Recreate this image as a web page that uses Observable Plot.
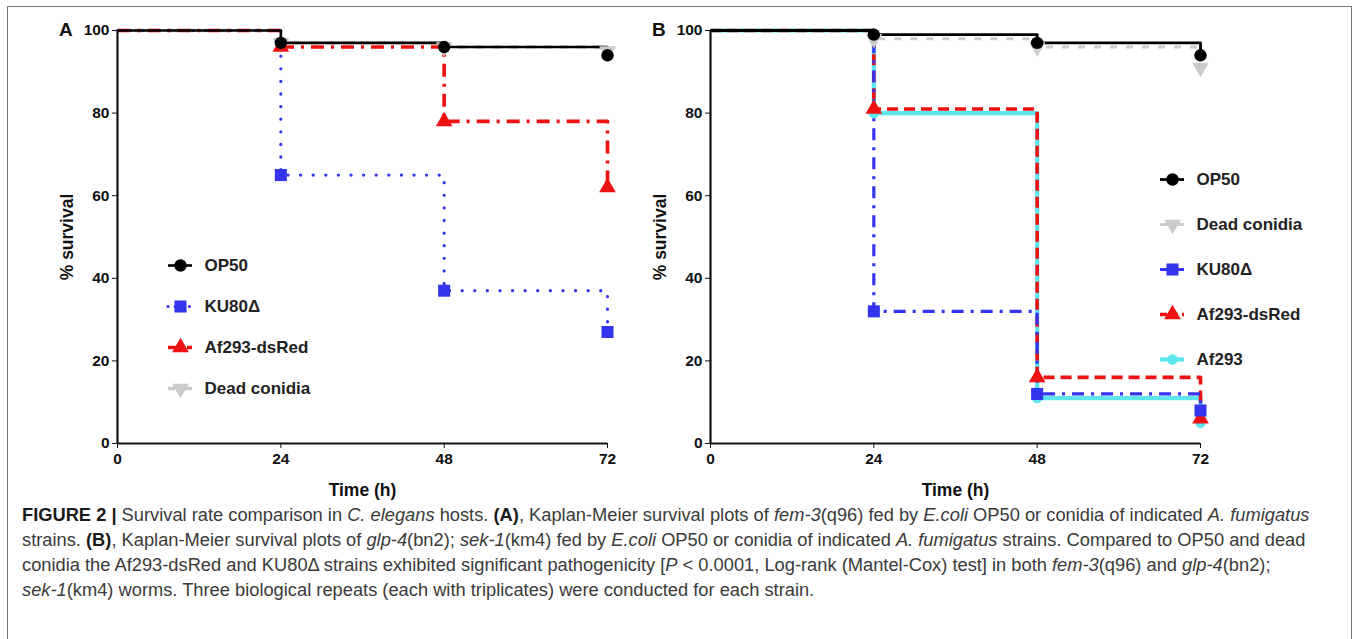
<!DOCTYPE html>
<html>
<head>
<meta charset="utf-8">
<script src="https://cdn.jsdelivr.net/npm/d3@7"></script>
<script src="https://cdn.jsdelivr.net/npm/@observablehq/plot@0.6"></script>
<style>
  html, body { margin: 0; padding: 0; background: #fff; }
  #root { position: relative; width: 1360px; height: 639px; overflow: hidden; background: #fff; }
  #frame { position: absolute; left: 7px; top: 6px; width: 1345px; height: 700px; border: 1.5px solid #777; box-sizing: border-box; }
  .abs { position: absolute; }
  .plabel { font-family: "Liberation Sans", Arial, sans-serif; font-weight: bold; font-size: 19px; color: #111; }
  #caption { position: absolute; left: 22px; top: 502px; font-family: "Liberation Sans", Arial, sans-serif; font-size: 18.3px; line-height: 25px; color: #3a3a3a; white-space: nowrap; }
  #caption b { color: #1a1a1a; }
</style>
</head>
<body>
<div id="root">
  <div id="frame"></div>
  <div class="abs plabel" style="left:59px; top:19px;">A</div>
  <div class="abs plabel" style="left:652px; top:19px;">B</div>
  <div id="caption">
    <b>FIGURE 2 |</b> Survival rate comparison in <i>C. elegans</i> hosts. <b>(A)</b>, Kaplan-Meier survival plots of <i>fem-3</i>(q96) fed by <i>E.coli</i> OP50 or conidia of indicated <i>A. fumigatus</i><br>
    strains. <b>(B)</b>, Kaplan-Meier survival plots of <i>glp-4</i>(bn2); <i>sek-1</i>(km4) fed by <i>E.coli</i> OP50 or conidia of indicated <i>A. fumigatus</i> strains. Compared to OP50 and dead<br>
    conidia the Af293-dsRed and KU80Δ strains exhibited significant pathogenicity [<i>P</i> &lt; 0.0001, Log-rank (Mantel-Cox) test] in both <i>fem-3</i>(q96) and <i>glp-4</i>(bn2);<br>
    <i>sek-1</i>(km4) worms. Three biological repeats (each with triplicates) were conducted for each strain.
  </div>
</div>
<script>
// ---------------- data ----------------
const times = [0, 24, 48, 72];
const yTicks = [0, 20, 40, 60, 80, 100];
const xLabel = "Time (h)";
const yLabel = "% survival";

// Panel A: fem-3(q96)
const strainsA = ["OP50", "KU80Δ", "Af293-dsRed", "Dead conidia"];
const survA_OP50 = [100, 97, 96, 94];
const survA_KU80 = [100, 65, 37, 27];
const survA_dsRed = [100, 96, 78, 62];
const survA_Dead = [100, 97, 96, 95];

// Panel B: glp-4(bn2); sek-1(km4)
const strainsB = ["OP50", "Dead conidia", "KU80Δ", "Af293-dsRed", "Af293"];
const survB_OP50 = [100, 99, 97, 94];
const survB_Dead = [100, 98, 96, 91];
const survB_KU80 = [100, 32, 12, 8];
const survB_dsRed = [100, 81, 16, 6];
const survB_Af293 = [100, 80, 11, 5];

// ---------------- styles ----------------
const triangleDown = {
  draw(ctx, size) {
    const s3 = Math.sqrt(3);
    const y = -Math.sqrt(size / (s3 * 3));
    ctx.moveTo(0, -y * 2);
    ctx.lineTo(-s3 * y, y);
    ctx.lineTo(s3 * y, y);
    ctx.closePath();
  }
};
const stylesA = {
  "OP50":         {stroke: "#000000", width: 2.6, dash: null,       cap: "butt",  symbol: "circle",   r: 6.2, ldash: null},
  "KU80Δ":        {stroke: "#3434ee", width: 3.2, dash: "0.1,12.5", cap: "round", symbol: "square",   r: 6.8, ldash: "0.1,7"},
  "Af293-dsRed":  {stroke: "#ee1111", width: 3.6, dash: "13,7,3,7", cap: "butt",  symbol: "triangle", r: 6.2, ldash: "9,4,2,4"},
  "Dead conidia": {stroke: "#cbcbcb", width: 3.4, dash: "9,8",      cap: "butt",  symbol: triangleDown, r: 6.2, ldash: "7,4,2,4"}
};
const stylesB = {
  "OP50":         {stroke: "#000000", width: 2.8, dash: null,       cap: "butt",  symbol: "circle",   r: 6.2, ldash: null},
  "Dead conidia": {stroke: "#cbcbcb", width: 3.2, dash: "7,9",      cap: "butt",  symbol: triangleDown, r: 6.2, ldash: "7,4,2,4"},
  "KU80Δ":        {stroke: "#3434ee", width: 3.2, dash: "12,7,3,7", cap: "butt",  symbol: "square",   r: 6.8, ldash: "7,4,2,4"},
  "Af293-dsRed":  {stroke: "#ee1111", width: 3.6, dash: "11,6",     cap: "butt",  symbol: "triangle", r: 6.2, ldash: "7,4"},
  "Af293":        {stroke: "#5ee6ee", width: 4.2, dash: null,       cap: "butt",  symbol: "circle",   r: 5.2, ldash: null}
};

function rows(strain, surv) { return times.map((t, i) => ({t, s: surv[i], strain})); }

function lineMark(data, st) {
  return Plot.line(data, {x: "t", y: "s", curve: "step-after", stroke: st.stroke, strokeWidth: st.width,
    strokeDasharray: st.dash, strokeLinecap: st.cap});
}
function dotMark(data, st) {
  return Plot.dot(data.filter(d => d.t > 0), {x: "t", y: "s", symbol: () => st.symbol, r: st.r, fill: st.stroke, stroke: "none"});
}

function panel(order, styles) {
  return Plot.plot({
    width: 577, height: 500,
    marginLeft: 67, marginRight: 20, marginTop: 30, marginBottom: 57,
    style: {fontFamily: "'Liberation Sans', Arial, sans-serif", fontWeight: "bold", color: "#111", background: "transparent", overflow: "visible"},
    x: {domain: [0, 72]},
    y: {domain: [0, 100]},
    symbol: {type: "identity"},
    marks: [
      Plot.axisX({ticks: times, tickSize: 5, tickPadding: 4, label: null, fontSize: 15.5}),
      Plot.axisY({ticks: yTicks, tickSize: 5, tickPadding: 3, label: null, fontSize: 15.5}),
      Plot.text([xLabel], {text: d => d, frameAnchor: "bottom", textAnchor: "middle", dy: 52, fontSize: 17.5, fontWeight: "bold", fill: "#111"}),
      Plot.text([yLabel], {text: d => d, frameAnchor: "left", textAnchor: "middle", dx: -50, rotate: -90, fontSize: 17.5, fontWeight: "bold", fill: "#111"}),
      ...order.map(([name, surv]) => lineMark(rows(name, surv), styles[name])),
      Plot.ruleX([0], {stroke: "#111", strokeWidth: 2.2}),
      Plot.ruleY([0], {stroke: "#111", strokeWidth: 2.2}),
      ...order.map(([name, surv]) => dotMark(rows(name, surv), styles[name]))
    ]
  });
}

function legend(names, styles, spacing) {
  const n = names.length;
  return Plot.plot({
    width: 180, height: 20 * 2 + spacing * (n - 1),
    marginLeft: 0, marginRight: 0, marginTop: 20, marginBottom: 20,
    style: {fontFamily: "'Liberation Sans', Arial, sans-serif", fontWeight: "bold", color: "#222", background: "transparent", overflow: "visible"},
    x: {domain: [0, 180], range: [0, 180], axis: null},
    y: {type: "point", domain: names, padding: 0, axis: null},
    symbol: {type: "identity"},
    marks: [
      ...names.map(name => Plot.ruleY([name], {y: d => d, x1: 0, x2: 24, stroke: styles[name].stroke,
        strokeWidth: styles[name].width, strokeDasharray: styles[name].ldash, strokeLinecap: styles[name].cap})),
      ...names.map(name => Plot.dot([name], {y: d => d, x: 12, symbol: () => styles[name].symbol, r: styles[name].r, fill: styles[name].stroke})),
      Plot.text(names, {y: d => d, x: 36, text: d => d, textAnchor: "start", fill: "#222", fontSize: 17})
    ]
  });
}

const root = document.getElementById("root");

const pA = panel([["Dead conidia", survA_Dead], ["KU80Δ", survA_KU80], ["Af293-dsRed", survA_dsRed], ["OP50", survA_OP50]], stylesA);
pA.style.position = "absolute"; pA.style.left = "50px"; pA.style.top = "0px";
root.appendChild(pA);

const pB = panel([["Dead conidia", survB_Dead], ["Af293", survB_Af293], ["Af293-dsRed", survB_dsRed], ["KU80Δ", survB_KU80], ["OP50", survB_OP50]], stylesB);
pB.style.position = "absolute"; pB.style.left = "643px"; pB.style.top = "0px";
root.appendChild(pB);

const lA = legend(strainsA, stylesA, 41);
lA.style.position = "absolute"; lA.style.left = "168px"; lA.style.top = "245px";
root.appendChild(lA);

const lB = legend(strainsB, stylesB, 45);
lB.style.position = "absolute"; lB.style.left = "1160px"; lB.style.top = "159px";
root.appendChild(lB);
</script>
</body>
</html>
